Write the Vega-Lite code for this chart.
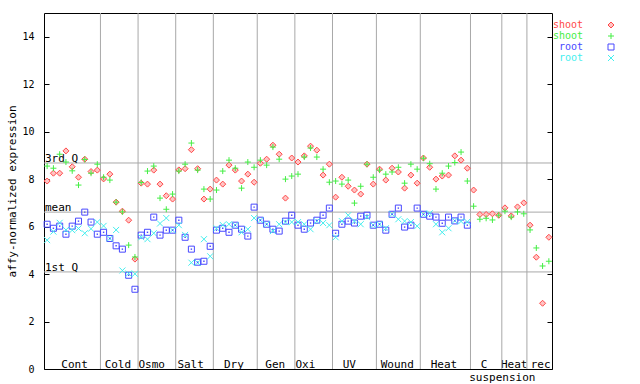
{
  "$schema": "https://vega.github.io/schema/vega-lite/v6.json",
  "width": 508,
  "height": 356,
  "autosize": {"type": "none"},
  "padding": {"left": 44, "top": 13, "right": 88, "bottom": 15},
  "background": "white",
  "config": {
    "view": {"stroke": "black", "strokeWidth": 1},
    "font": "DejaVu Sans Mono",
    "axis": {"labelFont": "DejaVu Sans Mono", "titleFont": "DejaVu Sans Mono", "labelColor": "black", "titleColor": "black", "tickColor": "black", "domain": false, "grid": false, "titleFontWeight": "normal", "labelOverlap": false},
    "axisX": {"ticks": false, "tickSize": 0, "labelPadding": -2, "labelBaseline": "alphabetic", "labelFontSize": 11, "labelLineHeight": 13, "labelOverlap": false, "labelFlush": false, "labelBound": false, "tickCount": 40},
    "legend": {"labelFont": "DejaVu Sans Mono"}
  },
  "datasets": {
    "pts": [
      {"i":0,"shoot_a":7.92,"shoot_b":8.55,"root_a":6.10,"root_b":5.43},
      {"i":1,"shoot_a":8.25,"shoot_b":8.46,"root_a":5.93,"root_b":5.79},
      {"i":2,"shoot_a":8.25,"shoot_b":9.05,"root_a":6.02,"root_b":6.16},
      {"i":3,"shoot_a":9.19,"shoot_b":8.72,"root_a":5.68,"root_b":5.86},
      {"i":4,"shoot_a":8.52,"shoot_b":8.35,"root_a":6.02,"root_b":5.85},
      {"i":5,"shoot_a":8.08,"shoot_b":7.75,"root_a":6.23,"root_b":5.92},
      {"i":6,"shoot_a":8.84,"shoot_b":8.83,"root_a":6.61,"root_b":5.72},
      {"i":7,"shoot_a":8.32,"shoot_b":8.25,"root_a":6.19,"root_b":5.91},
      {"i":8,"shoot_a":8.38,"shoot_b":8.63,"root_a":5.68,"root_b":6.19},
      {"i":9,"shoot_a":8.01,"shoot_b":8.08,"root_a":5.76,"root_b":6.03},
      {"i":10,"shoot_a":8.21,"shoot_b":7.96,"root_a":5.50,"root_b":5.50},
      {"i":11,"shoot_a":7.03,"shoot_b":7.03,"root_a":5.19,"root_b":5.86},
      {"i":12,"shoot_a":6.65,"shoot_b":6.62,"root_a":5.05,"root_b":4.15},
      {"i":13,"shoot_a":6.27,"shoot_b":5.22,"root_a":3.95,"root_b":4.02},
      {"i":14,"shoot_a":4.63,"shoot_b":4.72,"root_a":3.36,"root_b":4.01},
      {"i":15,"shoot_a":7.83,"shoot_b":7.86,"root_a":5.64,"root_b":5.55},
      {"i":16,"shoot_a":7.79,"shoot_b":8.34,"root_a":5.76,"root_b":5.47},
      {"i":17,"shoot_a":8.38,"shoot_b":8.55,"root_a":6.40,"root_b":5.72},
      {"i":18,"shoot_a":7.79,"shoot_b":7.20,"root_a":5.64,"root_b":6.13},
      {"i":19,"shoot_a":7.30,"shoot_b":6.73,"root_a":5.85,"root_b":6.36},
      {"i":20,"shoot_a":7.16,"shoot_b":7.37,"root_a":5.85,"root_b":5.85},
      {"i":21,"shoot_a":8.39,"shoot_b":8.34,"root_a":6.27,"root_b":6.06},
      {"i":22,"shoot_a":8.44,"shoot_b":8.63,"root_a":5.55,"root_b":5.65},
      {"i":23,"shoot_a":9.24,"shoot_b":9.52,"root_a":5.05,"root_b":4.48},
      {"i":24,"shoot_a":8.44,"shoot_b":8.38,"root_a":4.50,"root_b":4.48},
      {"i":25,"shoot_a":7.16,"shoot_b":7.58,"root_a":4.54,"root_b":5.47},
      {"i":26,"shoot_a":7.58,"shoot_b":7.16,"root_a":5.17,"root_b":4.75},
      {"i":27,"shoot_a":7.96,"shoot_b":7.54,"root_a":5.85,"root_b":5.93},
      {"i":28,"shoot_a":7.79,"shoot_b":8.34,"root_a":5.93,"root_b":6.07},
      {"i":29,"shoot_a":8.59,"shoot_b":8.80,"root_a":5.76,"root_b":6.10},
      {"i":30,"shoot_a":8.38,"shoot_b":8.46,"root_a":6.06,"root_b":6.06},
      {"i":31,"shoot_a":7.92,"shoot_b":7.62,"root_a":5.89,"root_b":5.76},
      {"i":32,"shoot_a":8.21,"shoot_b":8.72,"root_a":5.60,"root_b":5.89},
      {"i":33,"shoot_a":7.87,"shoot_b":8.50,"root_a":6.82,"root_b":6.36},
      {"i":34,"shoot_a":8.67,"shoot_b":8.80,"root_a":6.27,"root_b":6.27},
      {"i":35,"shoot_a":8.84,"shoot_b":8.59,"root_a":6.10,"root_b":6.10},
      {"i":36,"shoot_a":9.43,"shoot_b":9.35,"root_a":5.89,"root_b":5.81},
      {"i":37,"shoot_a":9.05,"shoot_b":8.84,"root_a":5.81,"root_b":6.10},
      {"i":38,"shoot_a":7.20,"shoot_b":8.00,"root_a":6.23,"root_b":6.19},
      {"i":39,"shoot_a":8.89,"shoot_b":8.13,"root_a":6.48,"root_b":6.19},
      {"i":40,"shoot_a":8.72,"shoot_b":8.21,"root_a":6.06,"root_b":6.19},
      {"i":41,"shoot_a":8.98,"shoot_b":8.93,"root_a":5.89,"root_b":6.10},
      {"i":42,"shoot_a":9.39,"shoot_b":9.31,"root_a":6.15,"root_b":5.89},
      {"i":43,"shoot_a":9.22,"shoot_b":8.93,"root_a":6.27,"root_b":6.23},
      {"i":44,"shoot_a":8.17,"shoot_b":8.42,"root_a":6.48,"root_b":6.15},
      {"i":45,"shoot_a":8.63,"shoot_b":7.87,"root_a":6.78,"root_b":6.06},
      {"i":46,"shoot_a":7.24,"shoot_b":7.92,"root_a":5.72,"root_b":5.55},
      {"i":47,"shoot_a":8.08,"shoot_b":7.79,"root_a":6.10,"root_b":6.23},
      {"i":48,"shoot_a":7.70,"shoot_b":7.96,"root_a":6.23,"root_b":6.48},
      {"i":49,"shoot_a":7.54,"shoot_b":6.99,"root_a":6.15,"root_b":6.23},
      {"i":50,"shoot_a":7.37,"shoot_b":7.70,"root_a":6.44,"root_b":6.10},
      {"i":51,"shoot_a":8.63,"shoot_b":8.63,"root_a":6.48,"root_b":6.40},
      {"i":52,"shoot_a":7.79,"shoot_b":8.08,"root_a":6.06,"root_b":6.06},
      {"i":53,"shoot_a":8.42,"shoot_b":8.38,"root_a":6.10,"root_b":6.10},
      {"i":54,"shoot_a":7.96,"shoot_b":8.21,"root_a":5.85,"root_b":5.93},
      {"i":55,"shoot_a":8.46,"shoot_b":8.30,"root_a":6.52,"root_b":6.52},
      {"i":56,"shoot_a":8.30,"shoot_b":8.50,"root_a":6.78,"root_b":6.31},
      {"i":57,"shoot_a":7.62,"shoot_b":7.83,"root_a":5.98,"root_b":6.23},
      {"i":58,"shoot_a":8.17,"shoot_b":8.63,"root_a":6.06,"root_b":6.19},
      {"i":59,"shoot_a":7.83,"shoot_b":8.42,"root_a":6.78,"root_b":6.02},
      {"i":60,"shoot_a":8.89,"shoot_b":8.88,"root_a":6.52,"root_b":6.51},
      {"i":61,"shoot_a":8.50,"shoot_b":8.65,"root_a":6.44,"root_b":6.56},
      {"i":62,"shoot_a":8.00,"shoot_b":7.58,"root_a":6.40,"root_b":6.10},
      {"i":63,"shoot_a":8.13,"shoot_b":8.25,"root_a":6.14,"root_b":5.76},
      {"i":64,"shoot_a":8.17,"shoot_b":8.55,"root_a":6.40,"root_b":5.93},
      {"i":65,"shoot_a":8.98,"shoot_b":8.70,"root_a":6.24,"root_b":6.25},
      {"i":66,"shoot_a":8.80,"shoot_b":9.14,"root_a":6.40,"root_b":6.22},
      {"i":67,"shoot_a":8.46,"shoot_b":7.92,"root_a":6.06,"root_b":6.20},
      {"i":68,"shoot_a":7.54,"shoot_b":6.86},
      {"i":69,"shoot_a":6.51,"shoot_b":6.31},
      {"i":70,"shoot_a":6.51,"shoot_b":6.35},
      {"i":71,"shoot_a":6.54,"shoot_b":6.28},
      {"i":72,"shoot_a":6.48,"shoot_b":6.48},
      {"i":73,"shoot_a":6.79,"shoot_b":6.65},
      {"i":74,"shoot_a":6.45,"shoot_b":6.40},
      {"i":75,"shoot_a":6.83,"shoot_b":6.62},
      {"i":76,"shoot_a":7.00,"shoot_b":6.54},
      {"i":77,"shoot_a":6.06,"shoot_b":5.86},
      {"i":78,"shoot_a":4.71,"shoot_b":5.10},
      {"i":79,"shoot_a":2.77,"shoot_b":4.34},
      {"i":80,"shoot_a":5.55,"shoot_b":4.54}
    ],
    "sep": [{"b":8.5},{"b":14.5},{"b":20.5},{"b":26.5},{"b":33.5},{"b":39.5},{"b":45.5},{"b":52.5},{"b":59.5},{"b":67.5},{"b":72.5},{"b":76.5}],
    "q": [{"label":"3rd Q","v":8.68},{"label":"mean","v":6.61},{"label":"1st Q","v":4.09}]
  },
  "resolve": {"axis": {"y": "independent"}},
  "layer": [
    {
      "data": {"name": "sep"},
      "mark": {"type": "rule", "color": "#a8a8a8", "strokeWidth": 1},
      "encoding": {
        "x": {"field": "b", "type": "quantitative", "title": null, "scale": {"domain": [-0.5, 80.5], "nice": false, "zero": false},
          "axis": {"values": [4.3, 11.2, 16.6, 22.8, 29.7, 36.3, 41.1, 48.1, 55.75, 63.2, 69.6, 72.5, 74.4, 78.6],
            "labelExpr": "{'4.3':'Cont','11.2':'Cold','16.6':'Osmo','22.8':'Salt','29.7':'Dry','36.3':'Gen','41.1':'Oxi','48.1':'UV','55.75':'Wound','63.2':'Heat','69.6':'C','72.5':['','suspension'],'74.4':'Heat','78.6':'rec'}[datum.value + '']",
            "labelOverlap": false, "tickCount": 40, "title": null}}
      }
    },
    {
      "data": {"name": "q"},
      "mark": {"type": "rule", "color": "#a8a8a8", "strokeWidth": 1},
      "encoding": {
        "y": {"field": "v", "type": "quantitative", "title": null, "scale": {"domain": [0, 15], "nice": false, "zero": true},
          "axis": {"orient": "right", "labels": false, "tickSize": -5, "values": [0,2,4,6,8,10,12,14], "tickCount": 20, "title": null}}
      }
    },
    {
      "data": {"name": "q"},
      "mark": {"type": "text", "align": "left", "baseline": "alphabetic", "dx": 1, "dy": -1, "fontSize": 11, "font": "DejaVu Sans Mono", "color": "black"},
      "encoding": {
        "x": {"datum": -0.5, "type": "quantitative", "title": null},
        "y": {"field": "v", "type": "quantitative", "axis": null},
        "text": {"field": "label"}
      }
    },
    {
      "data": {"name": "pts"},
      "transform": [
        {"fold": ["shoot_a", "shoot_b", "root_a", "root_b"]},
        {"filter": "isValid(datum.value)"}
      ],
      "mark": {"type": "point", "filled": false, "strokeWidth": 1, "opacity": 1},
      "encoding": {
        "x": {"field": "i", "type": "quantitative", "title": null},
        "y": {"field": "value", "type": "quantitative",
          "axis": {"values": [0,2,4,6,8,10,12,14], "tickCount": 20, "tickSize": -5, "labelPadding": 15, "labelFontSize": 10,
            "title": "affy-normalized expression", "titleFontSize": 11, "titlePadding": 4}},
        "color": {"field": "key", "type": "nominal",
          "scale": {"domain": ["shoot_a", "shoot_b", "root_a", "root_b"], "range": ["#ff4848", "#44ee44", "#4848ff", "#44eeee"]},
          "legend": {"orient": "none", "legendX": 502, "legendY": 7, "title": null, "padding": 0, "rowPadding": 1,
            "labelExpr": "replace(datum.label, /_.*/, '')", "labelAlign": "right", "labelOffset": -33, "symbolOffset": 60,
            "labelFontSize": 10, "symbolSize": 36, "symbolStrokeWidth": 1,
            "labelColor": {"expr": "scale('color', datum.value)"}}},
        "fill": {"field": "key", "type": "nominal",
          "scale": {"domain": ["shoot_a", "shoot_b", "root_a", "root_b"], "range": ["#ffc4c4", "transparent", "transparent", "transparent"]}},
        "shape": {"field": "key", "type": "nominal",
          "scale": {"domain": ["shoot_a", "shoot_b", "root_a", "root_b"], "range": ["diamond", "M-1,0H1M0,-1V1", "square", "M-1,-1L1,1M1,-1L-1,1"]}},
        "size": {"value": 36}
      }
    },
    {
      "data": {"name": "pts"},
      "transform": [
        {"fold": ["root_a"]},
        {"filter": "isValid(datum.value)"}
      ],
      "mark": {"type": "square", "size": 2, "color": "#4848ff", "opacity": 1},
      "encoding": {
        "x": {"field": "i", "type": "quantitative", "title": null},
        "y": {"field": "value", "type": "quantitative", "axis": null}
      }
    }
  ]
}
